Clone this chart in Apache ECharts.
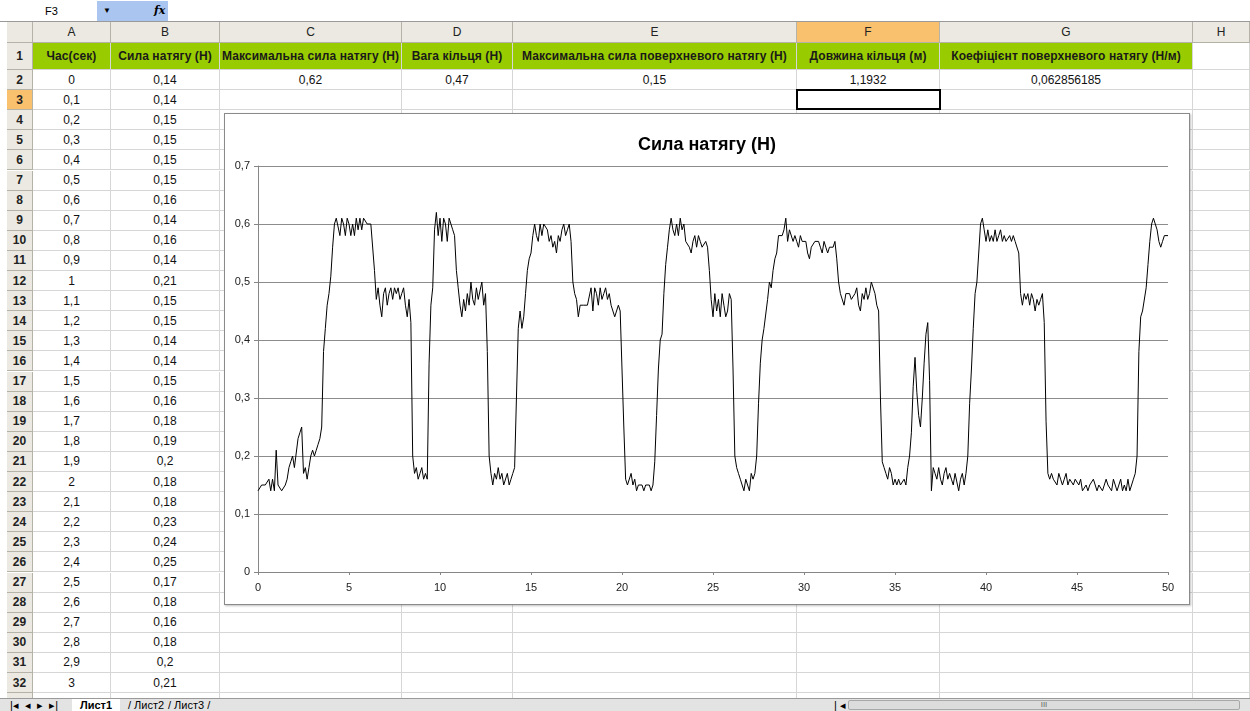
<!DOCTYPE html>
<html lang="uk">
<head>
<meta charset="UTF-8">
<title>Сила натягу (Н)</title>
<style>
  body { margin:0; width:1250px; height:711px; overflow:hidden; background:#fff; position:relative;
         font-family:"Liberation Sans", Arial, sans-serif; }
  .c { position:absolute; box-sizing:border-box; border-right:1px solid #d6d6d6; border-bottom:1px solid #d6d6d6;
       font-size:12px; color:#111; display:flex; align-items:center; justify-content:center;
       white-space:nowrap; overflow:hidden; }
  .hd { background:#ebe9e1; border-right:1px solid #b5b2a8; border-bottom:1px solid #b5b2a8; font-size:12px; color:#222; }
  .rh { font-weight:bold; font-size:12px; }
  .sel { background:#f9c06e; }
  .green { background:#99cc00; font-weight:bold; color:#1a1a1a; letter-spacing:0.1px; }
  #fbar { position:absolute; left:0; top:0; width:1250px; height:22px; border-bottom:1px solid #9a9a9a; box-sizing:border-box; background:#fff; }
  #namebox { position:absolute; left:7px; top:2px; width:90px; height:18px; font-size:11px; line-height:18px; padding-left:38px; box-sizing:border-box; }
  #fxbox { position:absolute; left:97px; top:1px; width:71px; height:20px; background:#a9c5f0; font-size:11px; }
  #fxbox .arr { position:absolute; left:6px; top:0; line-height:20px; font-size:8px; }
  #fxbox .fx { position:absolute; left:57px; top:0; line-height:20px; font-style:italic; font-weight:bold; font-family:"DejaVu Serif", serif; font-size:11px; }
  #chartBox { position:absolute; left:224px; top:113px; width:966px; height:492px; box-sizing:border-box;
              border:1px solid #8a8a8a; background:#fff; box-shadow:1px 1px 2px rgba(0,0,0,0.25); }
  #tabs { position:absolute; left:0; top:698px; width:1250px; height:13px; background:#e3e3e3; border-top:1px solid #9a9a9a; box-sizing:border-box; font-size:11px; }
  #tabs span { position:absolute; top:0; line-height:12px; }
  #hscroll { position:absolute; left:848px; top:1px; width:392px; height:10px; background:#dcdcdc; border:1px solid #a8a8a8; border-radius:2px; box-sizing:border-box; text-align:center; font-size:8px; line-height:8px; color:#666; }
</style>
<script src="https://cdn.jsdelivr.net/npm/echarts@6.0.0/dist/echarts.min.js"></script>
</head>
<body>

<div id="fbar">
  <div id="namebox">F3</div>
  <div id="fxbox"><span class="arr">&#9660;</span><span class="fx">fx</span></div>
</div>

<div id="sheet"></div>

<div id="chartBox"></div>

<div id="tabs">
  <span style="left:10px">|&#9666;&nbsp;&nbsp;&#9666;&nbsp;&nbsp;&#9656;&nbsp;&nbsp;&#9656;|</span>
  <span style="left:72px; background:#fff; padding:0 8px; font-weight:bold;">Лист1</span>
  <span style="left:128px">/ Лист2</span>
  <span style="left:168px">/ Лист3 /</span>
  <span style="left:834px">|&nbsp;&#9666;</span>
  <div id="hscroll">III</div>
</div>

<script>
  // значення, зчитані з таблиці / графіка
  const headers = ['Час(сек)', 'Сила натягу (Н)', 'Максимальна сила натягу (Н)', 'Вага кільця (Н)',
                   'Максимальна сила поверхневого натягу (Н)', 'Довжина кільця (м)', 'Коефіцієнт поверхневого натягу (Н/м)'];
  const resultRow = ['', '', '0,62', '0,47', '0,15', '1,1932', '0,062856185'];

  // сила натягу, крок 0,1 с (0 .. 50 с)
  const tension = [
    0.14,0.14,0.15,0.15,0.15,0.15,0.16,0.14,0.16,0.14,  // 0
    0.21,0.15,0.15,0.14,0.14,0.15,0.16,0.18,0.19,0.20,  // 1
    0.18,0.18,0.23,0.24,0.25,0.17,0.18,0.16,0.18,0.20,  // 2
    0.21,0.20,0.21,0.22,0.23,0.25,0.38,0.42,0.46,0.48,  // 3
    0.51,0.56,0.60,0.61,0.61,0.58,0.61,0.60,0.58,0.61,  // 4
    0.60,0.58,0.60,0.58,0.61,0.59,0.61,0.59,0.61,0.61,  // 5
    0.60,0.60,0.60,0.60,0.52,0.47,0.49,0.46,0.44,0.48,  // 6
    0.49,0.46,0.48,0.49,0.47,0.49,0.48,0.49,0.47,0.48,  // 7
    0.49,0.46,0.44,0.47,0.43,0.20,0.17,0.18,0.16,0.17,  // 8
    0.18,0.16,0.17,0.16,0.36,0.46,0.49,0.59,0.62,0.58,  // 9
    0.61,0.57,0.61,0.60,0.57,0.61,0.60,0.59,0.58,0.52,  // 10
    0.49,0.46,0.44,0.47,0.45,0.48,0.46,0.50,0.47,0.46,  // 11
    0.49,0.47,0.47,0.50,0.46,0.48,0.38,0.20,0.17,0.15,  // 12
    0.17,0.16,0.18,0.16,0.17,0.15,0.15,0.17,0.15,0.16,  // 13
    0.17,0.18,0.30,0.42,0.45,0.42,0.44,0.48,0.52,0.54,  // 14
    0.55,0.58,0.60,0.58,0.57,0.60,0.58,0.60,0.60,0.59,  // 15
    0.57,0.58,0.56,0.57,0.55,0.58,0.57,0.59,0.60,0.58,  // 16
    0.59,0.60,0.57,0.50,0.48,0.47,0.44,0.46,0.46,0.46,  // 17
    0.46,0.46,0.46,0.49,0.45,0.49,0.48,0.46,0.49,0.47,  // 18
    0.48,0.49,0.47,0.48,0.46,0.45,0.44,0.45,0.46,0.45,  // 19
    0.45,0.25,0.16,0.15,0.15,0.17,0.15,0.16,0.14,0.15,  // 20
    0.15,0.15,0.14,0.15,0.15,0.15,0.14,0.15,0.19,0.27,  // 21
    0.35,0.40,0.41,0.48,0.53,0.56,0.59,0.61,0.59,0.58,  // 22
    0.60,0.58,0.61,0.59,0.60,0.57,0.57,0.56,0.55,0.57,  // 23
    0.58,0.56,0.58,0.57,0.56,0.56,0.57,0.56,0.52,0.47,  // 24
    0.44,0.48,0.45,0.47,0.44,0.48,0.46,0.44,0.45,0.48,  // 25
    0.47,0.35,0.20,0.18,0.17,0.16,0.15,0.14,0.16,0.15,  // 26
    0.14,0.17,0.16,0.17,0.20,0.29,0.36,0.40,0.42,0.42,  // 27
    0.47,0.50,0.49,0.52,0.54,0.55,0.58,0.58,0.58,0.59,  // 28
    0.61,0.57,0.59,0.59,0.57,0.58,0.57,0.56,0.58,0.57,  // 29
    0.57,0.57,0.55,0.54,0.56,0.56,0.57,0.57,0.57,0.56,  // 30
    0.55,0.57,0.56,0.55,0.56,0.56,0.56,0.57,0.54,0.50,  // 31
    0.48,0.48,0.46,0.48,0.48,0.48,0.47,0.47,0.48,0.49,  // 32
    0.46,0.45,0.48,0.47,0.49,0.47,0.48,0.50,0.50,0.48,  // 33
    0.46,0.45,0.30,0.19,0.18,0.17,0.16,0.18,0.17,0.15,  // 34
    0.16,0.15,0.16,0.15,0.15,0.16,0.15,0.18,0.20,0.24,  // 35
    0.32,0.37,0.31,0.27,0.25,0.30,0.36,0.41,0.43,0.33,  // 36
    0.14,0.18,0.17,0.16,0.18,0.16,0.15,0.17,0.18,0.16,  // 37
    0.17,0.16,0.15,0.17,0.17,0.14,0.16,0.17,0.15,0.17,  // 38
    0.20,0.29,0.35,0.42,0.48,0.50,0.55,0.60,0.61,0.59,  // 39
    0.57,0.59,0.57,0.58,0.57,0.59,0.57,0.58,0.59,0.57,  // 40
    0.58,0.57,0.57,0.58,0.57,0.58,0.57,0.57,0.55,0.48,  // 41
    0.46,0.48,0.47,0.48,0.46,0.48,0.47,0.45,0.47,0.46,  // 42
    0.47,0.48,0.43,0.26,0.17,0.16,0.17,0.16,0.16,0.15,  // 43
    0.17,0.16,0.15,0.16,0.17,0.15,0.16,0.16,0.15,0.16,  // 44
    0.16,0.15,0.16,0.14,0.14,0.15,0.14,0.15,0.15,0.16,  // 45
    0.15,0.14,0.15,0.15,0.14,0.15,0.16,0.15,0.15,0.14,  // 46
    0.16,0.15,0.14,0.15,0.16,0.14,0.15,0.14,0.16,0.14,  // 47
    0.15,0.16,0.17,0.20,0.38,0.44,0.45,0.45,0.49,0.53,  // 48
    0.57,0.60,0.61,0.60,0.59,0.57,0.56,0.57,0.58,0.58,  // 49
    0.58                                                // 50
  ];
  const times = tension.map((v, i) => i / 10);

  const comma = v => String(v).replace('.', ',');

  // сітка аркуша
  const colX = [7, 33, 111, 220, 402, 513, 797, 940, 1193, 1250];
  const colNames = ['', 'A', 'B', 'C', 'D', 'E', 'F', 'G', 'H'];
  const rowTop = r => r === 1 ? 43 : 70 + (r - 2) * 20.1;
  const rowH = r => r === 1 ? 27 : 20.1;
  const sheet = document.getElementById('sheet');

  function cell(x0, x1, y, h, text, cls, extra) {
    const d = document.createElement('div');
    d.className = 'c ' + (cls || '');
    d.style.left = x0 + 'px';
    d.style.top = y + 'px';
    d.style.width = (x1 - x0) + 'px';
    d.style.height = h + 'px';
    d.textContent = text;
    if (extra) Object.assign(d.style, extra);
    sheet.appendChild(d);
    return d;
  }

  // заголовки стовпців
  for (let c = 0; c < colNames.length; c++) {
    cell(colX[c], colX[c + 1], 22, 21, colNames[c], 'hd' + (colNames[c] === 'F' ? ' sel' : ''));
  }
  for (let r = 1; r <= 33; r++) {
    const y = rowTop(r), h = rowH(r);
    cell(colX[0], colX[1], y, h, String(r), 'hd rh' + (r === 3 ? ' sel' : ''));
    for (let c = 1; c < colNames.length; c++) {
      let txt = '', cls = '';
      if (r === 1 && c <= 7) { txt = headers[c - 1]; cls = 'green'; }
      else if (r === 2 && c >= 3 && c <= 7) { txt = resultRow[c - 1]; }
      if (r >= 2 && c === 1) txt = comma(times[r - 2]);
      if (r >= 2 && c === 2) txt = comma(tension[r - 2]);
      cell(colX[c], colX[c + 1], y, h, txt, cls);
    }
  }
  // активна клітинка F3
  cell(colX[6] - 1, colX[7] + 1, rowTop(3) - 1, rowH(3) + 1, '', '', { border: '2px solid #000' });

  // діаграма
  const chart = echarts.init(document.getElementById('chartBox'));
  chart.setOption({
    animation: false,
    title: {
      text: 'Сила натягу (Н)', left: 'center', top: 17,
      textStyle: { fontFamily: 'Liberation Sans', fontSize: 18, fontWeight: 'bold', color: '#000' }
    },
    grid: { left: 33, right: 21, top: 52, bottom: 32 },
    xAxis: {
      type: 'value', min: 0, max: 50, interval: 5,
      axisLine: { lineStyle: { color: '#868686' } },
      axisTick: { show: true, length: 3, lineStyle: { color: '#868686' } },
      axisLabel: { color: '#222', fontSize: 11, margin: 10, fontFamily: 'Liberation Sans' },
      splitLine: { show: false }
    },
    yAxis: {
      type: 'value', min: 0, max: 0.7, interval: 0.1,
      axisLine: { show: true, lineStyle: { color: '#868686' } },
      axisTick: { show: true, length: 4, lineStyle: { color: '#868686' } },
      axisLabel: { color: '#222', fontSize: 11, margin: 8, fontFamily: 'Liberation Sans',
                   formatter: v => comma(+v.toFixed(1)) },
      splitLine: { lineStyle: { color: '#8c8c8c', width: 1 } }
    },
    series: [{
      type: 'line',
      data: times.map((t, i) => [t, tension[i]]),
      showSymbol: false,
      lineStyle: { color: '#000', width: 1 }
    }]
  });
</script>

</body>
</html>
